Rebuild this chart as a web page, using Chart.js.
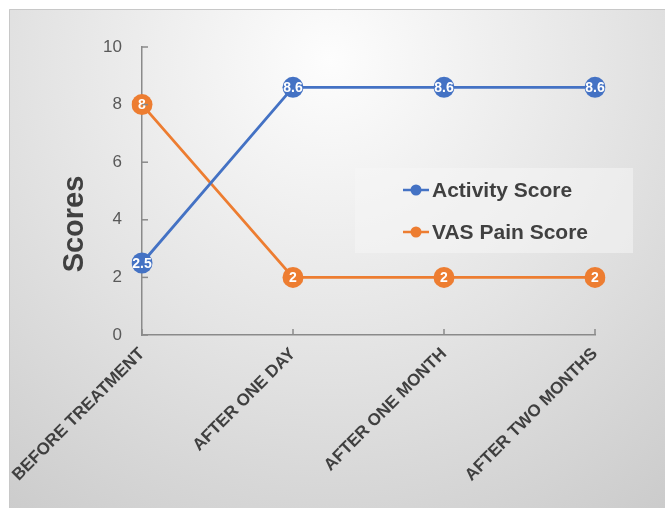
<!DOCTYPE html>
<html>
<head>
<meta charset="utf-8">
<script src="https://cdn.jsdelivr.net/npm/chart.js@4/dist/chart.umd.min.js"></script>
<style>
  html, body { margin: 0; padding: 0; background: #ffffff; }
  #wrap { width: 665px; height: 508px; }
</style>
</head>
<body>
<div id="wrap"><canvas id="chart" width="665" height="508"></canvas></div>
<script>
// Stages of treatment (x axis)
const categories = ['BEFORE TREATMENT', 'AFTER ONE DAY', 'AFTER ONE MONTH', 'AFTER TWO MONTHS'];
// Series values
const activityScore = [2.5, 8.6, 8.6, 8.6];
const vasPainScore = [8, 2, 2, 2];
// Y axis ticks
const yTicks = [0, 2, 4, 6, 8, 10];

const FONT = '"Liberation Sans", Arial, sans-serif';
const BLUE = '#4472C4';
const ORANGE = '#ED7D31';
const AXIS = '#8a8a8a';
const TEXT = '#404040';

// Panel background with a soft radial shading
const backgroundPlugin = {
  id: 'panelBackground',
  beforeDraw(chart) {
    const ctx = chart.ctx;
    const w = chart.width, h = chart.height;
    ctx.save();
    ctx.fillStyle = '#ffffff';
    ctx.fillRect(0, 0, w, h);
    const g = ctx.createRadialGradient(330, 60, 0, 330, 60, 640);
    g.addColorStop(0, '#fdfdfd');
    g.addColorStop(0.45, '#e4e4e4');
    g.addColorStop(1, '#c4c4c4');
    ctx.fillStyle = g;
    ctx.fillRect(9, 9, w - 9, h - 9);
    ctx.strokeStyle = '#c8c8c8';
    ctx.lineWidth = 1;
    ctx.beginPath();
    ctx.moveTo(9.5, h);
    ctx.lineTo(9.5, 9.5);
    ctx.lineTo(w, 9.5);
    ctx.stroke();
    ctx.restore();
  }
};

// Inward tick marks on both axes, plus the rotated axis title and the legend
const decorPlugin = {
  id: 'decor',
  afterDraw(chart) {
    const ctx = chart.ctx;
    const xs = chart.scales.x, ys = chart.scales.y;
    const area = chart.chartArea;
    ctx.save();
    ctx.strokeStyle = AXIS;
    ctx.lineWidth = 1.5;
    ys.ticks.forEach((t, i) => {
      const y = ys.getPixelForTick(i);
      ctx.beginPath();
      ctx.moveTo(area.left, y);
      ctx.lineTo(area.left + 6, y);
      ctx.stroke();
    });
    xs.ticks.forEach((t, i) => {
      const x = xs.getPixelForTick(i);
      ctx.beginPath();
      ctx.moveTo(x, area.bottom);
      ctx.lineTo(x, area.bottom - 6);
      ctx.stroke();
    });

    // Axis title
    ctx.save();
    ctx.translate(75, 224);
    ctx.rotate(-Math.PI / 2);
    ctx.font = 'bold 29px ' + FONT;
    ctx.fillStyle = TEXT;
    ctx.textAlign = 'center';
    ctx.textBaseline = 'middle';
    ctx.fillText('Scores', 0, 0);
    ctx.restore();

    // Legend box
    ctx.fillStyle = 'rgba(246,246,246,0.55)';
    ctx.fillRect(355, 168, 278, 85);
    const rows = [190, 232];
    chart.data.datasets.forEach((ds, i) => {
      const y = rows[i];
      ctx.strokeStyle = ds.borderColor;
      ctx.lineWidth = 2.5;
      ctx.beginPath();
      ctx.moveTo(403, y);
      ctx.lineTo(429, y);
      ctx.stroke();
      ctx.fillStyle = ds.borderColor;
      ctx.beginPath();
      ctx.arc(416, y, 5.5, 0, Math.PI * 2);
      ctx.fill();
      ctx.fillStyle = TEXT;
      ctx.font = 'bold 21px ' + FONT;
      ctx.textAlign = 'left';
      ctx.textBaseline = 'middle';
      ctx.fillText(ds.label, 432, y + 1);
    });
    ctx.restore();
  }
};

// Value labels inside the markers
const valueLabelPlugin = {
  id: 'valueLabels',
  afterDatasetsDraw(chart) {
    const ctx = chart.ctx;
    ctx.save();
    ctx.font = 'bold 14px ' + FONT;
    ctx.fillStyle = '#ffffff';
    ctx.textAlign = 'center';
    ctx.textBaseline = 'middle';
    chart.data.datasets.forEach((ds, di) => {
      const meta = chart.getDatasetMeta(di);
      meta.data.forEach((pt, i) => {
        ctx.fillText(String(ds.data[i]), pt.x, pt.y + 1);
      });
    });
    ctx.restore();
  }
};

new Chart(document.getElementById('chart'), {
  type: 'line',
  data: {
    labels: categories,
    datasets: [
      {
        label: 'Activity Score',
        data: activityScore,
        borderColor: BLUE,
        backgroundColor: BLUE,
        pointBackgroundColor: BLUE,
        borderWidth: 2.8,
        pointRadius: 10.5,
        pointBorderWidth: 0,
        tension: 0
      },
      {
        label: 'VAS Pain Score',
        data: vasPainScore,
        borderColor: ORANGE,
        backgroundColor: ORANGE,
        pointBackgroundColor: ORANGE,
        borderWidth: 2.8,
        pointRadius: 10.5,
        pointBorderWidth: 0,
        tension: 0
      }
    ]
  },
  options: {
    responsive: false,
    devicePixelRatio: 1,
    animation: false,
    events: [],
    layout: { padding: { top: 47, right: 70, bottom: 0, left: 0 } },
    plugins: {
      legend: { display: false },
      tooltip: { enabled: false }
    },
    scales: {
      x: {
        type: 'category',
        offset: false,
        grid: { display: false, drawTicks: false },
        border: { display: true, color: AXIS, width: 1.5 },
        ticks: {
          color: TEXT,
          font: { family: FONT, size: 17, weight: 'bold' },
          minRotation: 45,
          maxRotation: 45,
          autoSkip: false,
          padding: 9
        },
        afterFit(scale) { scale.height = 508 - 335; }
      },
      y: {
        min: 0,
        max: 10,
        afterBuildTicks(scale) { scale.ticks = yTicks.map(v => ({ value: v })); },
        grid: { display: false, drawTicks: false },
        border: { display: true, color: AXIS, width: 1.5 },
        ticks: {
          color: '#595959',
          font: { family: FONT, size: 17 },
          padding: 20
        },
        afterFit(scale) { scale.width = 142; }
      }
    }
  },
  plugins: [backgroundPlugin, decorPlugin, valueLabelPlugin]
});
</script>
</body>
</html>
